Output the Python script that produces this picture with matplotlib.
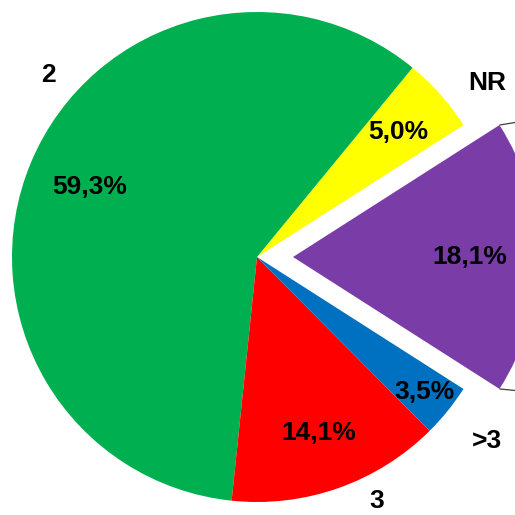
import numpy as np
import matplotlib.pyplot as plt

# Parts, counterclockwise from the exploded slice
categories = ["", "NR", "2", "3", ">3"]
values = [18.1, 5.0, 59.3, 14.1, 3.5]
colors = ["#7A3DA8", "#FFFF00", "#00B050", "#FF0000", "#0070C0"]
explode = [0.147, 0, 0, 0, 0]

# radial position of each percentage label (fraction of radius)
pct_dist = [0.72, 0.77, 0.74, 0.76, 0.88]

# category label positions (axes data units, radius = 1)
cat_pos = {"2": (-0.853, 0.743), "NR": (0.939, 0.710),
           ">3": (0.939, -0.751), "3": (0.490, -0.995)}

plt.rcParams['font.family'] = ['Liberation Sans', 'DejaVu Sans']

fig = plt.figure(figsize=(5.15, 5.15), dpi=100)
ax = fig.add_axes([0, 0, 1, 1])

start = -values[0] / 100 * 360 / 2
wedges, _ = ax.pie(values, colors=colors, explode=explode, startangle=start,
                   counterclock=True, radius=1,
                   wedgeprops=dict(linewidth=0))

px = 245.0
ax.set_aspect('auto')
ax.set_xlim(-257 / px, 258 / px)
ax.set_ylim(-258 / px, 257 / px)
ax.axis('off')

for w, v, d in zip(wedges, values, pct_dist):
    mid = np.deg2rad((w.theta1 + w.theta2) / 2)
    cx, cy = w.center
    x = cx + d * w.r * np.cos(mid)
    y = cy + d * w.r * np.sin(mid)
    txt = f"{v:.1f}".replace(".", ",") + "%"
    ax.text(x, y, txt, ha='center', va='center', fontsize=19,
            fontweight='bold', color='black')

for name, (x, y) in cat_pos.items():
    ax.text(x, y, name, ha='center', va='center', fontsize=19,
            fontweight='bold', color='black')

# leader lines from the exploded slice corners
w = wedges[0]
cx, cy = w.center
for ang, dy in ((w.theta2, 0.025), (w.theta1, -0.015)):
    a = np.deg2rad(ang)
    x0 = cx + w.r * np.cos(a)
    y0 = cy + w.r * np.sin(a)
    ax.plot([x0, x0 + 0.15], [y0, y0 + dy], color='#404040', lw=0.9,
            solid_capstyle='butt')

fig.savefig("out.png", dpi=100)
